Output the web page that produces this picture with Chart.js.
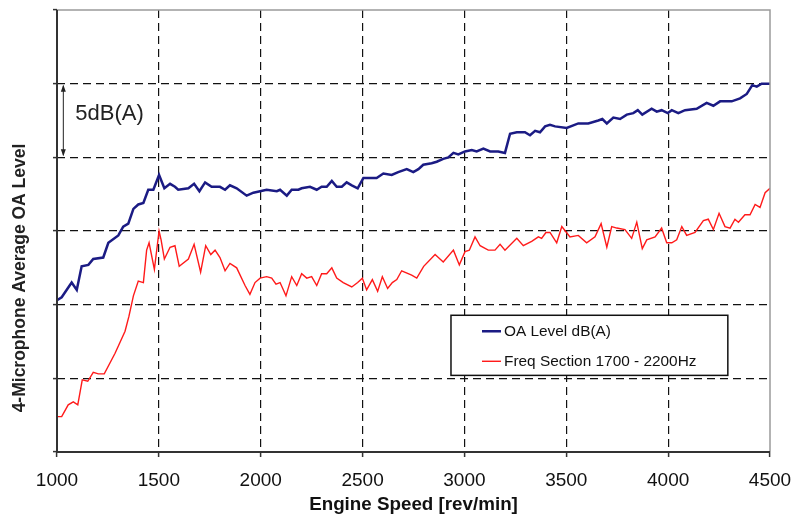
<!DOCTYPE html>
<html>
<head>
<meta charset="utf-8">
<script src="https://cdn.jsdelivr.net/npm/chart.js@4.4.1/dist/chart.umd.min.js"></script>
<style>
  html, body { margin: 0; padding: 0; background: #ffffff; }
  #wrap { width: 794px; height: 517px; }
</style>
</head>
<body>
<div id="wrap"><canvas id="c" width="794" height="517"></canvas></div>
<script>
// ---------- data ----------
const xTicks = [1000, 1500, 2000, 2500, 3000, 3500, 4000, 4500];
const seriesNames = ['OA Level dB(A)', 'Freq Section 1700 - 2200Hz'];

const oaRpm = [1000,1023,1072,1097,1121,1154,1178,1227,1252,1301,1325,1350,1375,1399,1424,1448,1473,1501,1527,1555,1579,1595,1645,1673,1699,1727,1759,1800,1825,1849,1882,1931,1964,1997,2029,2079,2095,2128,2152,2185,2201,2242,2275,2299,2324,2349,2373,2398,2422,2447,2476,2504,2528,2569,2602,2643,2675,2717,2749,2774,2798,2839,2864,2896,2921,2946,2970,3003,3036,3060,3093,3126,3166,3199,3224,3257,3297,3322,3347,3371,3396,3420,3445,3502,3559,3608,3657,3677,3699,3731,3764,3797,3829,3851,3873,3919,3944,3968,3998,4018,4050,4083,4140,4189,4222,4255,4312,4353,4386,4413,4435,4459,4500];
const oaLevel = [70.3,70.5,71.5,71.0,72.6,72.7,73.1,73.2,74.2,74.7,75.3,75.5,76.5,76.8,76.9,77.8,77.8,78.8,77.9,78.2,78.0,77.8,77.9,78.2,77.7,78.3,78.0,78.0,77.8,78.1,77.9,77.4,77.6,77.7,77.8,77.7,77.8,77.4,77.8,77.8,77.9,78.0,77.8,78.0,78.0,78.4,78.0,78.0,78.3,78.1,77.9,78.6,78.6,78.6,78.9,78.8,79.0,79.2,79.0,79.2,79.5,79.6,79.7,79.9,80.0,80.3,80.2,80.4,80.5,80.4,80.6,80.4,80.4,80.3,81.6,81.7,81.7,81.5,81.8,81.7,82.1,82.2,82.1,82.0,82.3,82.3,82.5,82.6,82.3,82.7,82.6,82.9,83.0,83.2,82.9,83.3,83.1,83.2,83.0,83.2,83.0,83.2,83.3,83.7,83.5,83.8,83.8,84.0,84.3,84.9,84.8,85.0,85.0];

const freqRpm = [1000,1023,1055,1080,1102,1124,1151,1178,1203,1232,1285,1334,1353,1375,1399,1424,1440,1452,1478,1501,1511,1527,1555,1579,1600,1645,1673,1705,1730,1755,1776,1800,1825,1849,1882,1923,1947,1972,1997,2029,2054,2075,2095,2124,2152,2177,2201,2226,2250,2275,2299,2324,2349,2373,2405,2447,2476,2499,2520,2548,2574,2597,2623,2646,2668,2692,2741,2766,2800,2856,2896,2946,2975,3003,3024,3052,3077,3117,3150,3175,3199,3257,3289,3330,3363,3379,3400,3420,3453,3478,3518,3559,3600,3641,3671,3699,3723,3748,3788,3821,3846,3873,3895,3936,3968,3993,4018,4042,4067,4091,4132,4173,4197,4222,4250,4279,4304,4328,4345,4377,4402,4427,4451,4476,4500];
const freqLevel = [62.4,62.4,63.2,63.4,63.2,64.9,64.8,65.4,65.3,65.3,66.7,68.2,69.2,70.6,71.6,71.5,73.7,74.2,72.4,75.0,74.4,73.1,73.9,74.0,72.6,73.1,74.1,72.2,74.0,73.4,73.7,73.2,72.3,72.8,72.5,71.3,70.7,71.5,71.8,71.9,71.8,71.4,71.5,70.6,71.9,71.3,72.1,71.8,71.9,71.3,72.1,72.1,72.5,71.8,71.5,71.2,71.5,71.8,71.0,71.7,70.9,71.9,71.1,71.5,71.7,72.3,72.0,71.8,72.6,73.4,72.9,73.7,72.7,73.6,73.7,74.6,74.0,73.7,73.7,74.1,73.7,74.5,74.0,74.3,74.6,74.5,74.9,74.9,74.2,75.3,74.6,74.7,74.2,74.6,75.5,73.9,75.3,75.2,75.1,74.5,75.6,73.8,74.4,74.6,75.2,74.2,74.2,74.4,75.3,74.7,74.9,75.7,75.8,75.1,76.2,75.3,75.2,75.8,75.6,76.1,76.1,76.8,76.6,77.6,77.9];

const yMin = 60, yMax = 90, yStep = 5;
const spanTop = 85, spanBottom = 80;   // the 5 dB(A) marker
const spanLabel = '5dB(A)';
const yTitle = '4-Microphone Average OA Level';
const xTitle = 'Engine Speed [rev/min]';

// ---------- helpers ----------
function pairs(xs, ys) { return xs.map((x, i) => ({ x: x, y: ys[i] })); }
const FONT = "'Liberation Sans', Arial, Helvetica, sans-serif";

// ---------- plugin: frame, y title, 5dB marker, legend ----------
const decor = {
  id: 'decor',
  beforeDraw(chart) {
    const ctx = chart.ctx;
    ctx.save();
    ctx.fillStyle = '#ffffff';
    ctx.fillRect(0, 0, chart.width, chart.height);
    ctx.restore();
  },
  afterDatasetsDraw(chart) {
    const ctx = chart.ctx;
    const a = chart.chartArea;
    const xs = chart.scales.x, ys = chart.scales.y;

    // frame: grey top/right, dark left/bottom
    ctx.save();
    ctx.setLineDash([]);
    ctx.strokeStyle = '#9a9a9a';
    ctx.lineWidth = 1.5;
    ctx.beginPath();
    ctx.moveTo(a.left, a.top); ctx.lineTo(a.right, a.top); ctx.lineTo(a.right, a.bottom);
    ctx.stroke();
    ctx.strokeStyle = '#333333';
    ctx.lineWidth = 2;
    ctx.beginPath();
    ctx.moveTo(a.left, a.top); ctx.lineTo(a.left, a.bottom); ctx.lineTo(a.right, a.bottom);
    ctx.stroke();

    // 5 dB(A) marker
    const mx = xs.getPixelForValue(1031);
    const y1 = ys.getPixelForValue(spanTop), y2 = ys.getPixelForValue(spanBottom);
    ctx.strokeStyle = '#222222';
    ctx.fillStyle = '#222222';
    ctx.lineWidth = 1;
    ctx.beginPath(); ctx.moveTo(mx, y1 + 2); ctx.lineTo(mx, y2 - 2); ctx.stroke();
    ctx.beginPath(); ctx.moveTo(mx, y1 + 1); ctx.lineTo(mx - 2.5, y1 + 8); ctx.lineTo(mx + 2.5, y1 + 8); ctx.closePath(); ctx.fill();
    ctx.beginPath(); ctx.moveTo(mx, y2 - 1); ctx.lineTo(mx - 2.5, y2 - 8); ctx.lineTo(mx + 2.5, y2 - 8); ctx.closePath(); ctx.fill();
    ctx.font = '22px ' + FONT;
    ctx.textAlign = 'left';
    ctx.textBaseline = 'middle';
    ctx.fillText(spanLabel, mx + 12, (y1 + y2) / 2 - 7);

    // legend box
    const lx = xs.getPixelForValue(2934), rx = xs.getPixelForValue(4293);
    const ty = ys.getPixelForValue(69.28), by = ys.getPixelForValue(65.2);
    ctx.fillStyle = '#ffffff';
    ctx.fillRect(lx, ty, rx - lx, by - ty);
    ctx.strokeStyle = '#111111';
    ctx.lineWidth = 1.5;
    ctx.strokeRect(lx, ty, rx - lx, by - ty);
    const rows = [ty + 16, ty + 46];
    chart.data.datasets.forEach((ds, i) => {
      const yy = rows[i];
      ctx.strokeStyle = ds.borderColor;
      ctx.lineWidth = ds.borderWidth;
      ctx.beginPath(); ctx.moveTo(lx + 31, yy); ctx.lineTo(lx + 50, yy); ctx.stroke();
      ctx.fillStyle = '#111111';
      ctx.font = '15.4px ' + FONT;
      ctx.textAlign = 'left';
      ctx.textBaseline = 'middle';
      ctx.fillText(ds.label, lx + 53, yy);
    });

    // y title
    ctx.translate(20, 278);
    ctx.rotate(-Math.PI / 2);
    ctx.font = 'bold 17.5px ' + FONT;
    ctx.fillStyle = '#222222';
    ctx.textAlign = 'center';
    ctx.textBaseline = 'middle';
    ctx.fillText(yTitle, 0, 0);
    ctx.restore();
  }
};

// ---------- chart ----------
const gridColX = (c) => (c.tick && (c.tick.value === xTicks[0] || c.tick.value === xTicks[xTicks.length - 1])) ? 'rgba(0,0,0,0)' : '#111111';
const gridColY = (c) => (c.tick && (c.tick.value === yMin || c.tick.value === yMax)) ? 'rgba(0,0,0,0)' : '#111111';

new Chart(document.getElementById('c'), {
  type: 'line',
  data: {
    datasets: [
      { label: seriesNames[0], data: pairs(oaRpm, oaLevel), borderColor: '#1b1b84', borderWidth: 2.5, pointRadius: 0, tension: 0, fill: false },
      { label: seriesNames[1], data: pairs(freqRpm, freqLevel), borderColor: '#ff1a1a', borderWidth: 1.4, pointRadius: 0, tension: 0, fill: false }
    ]
  },
  options: {
    responsive: false,
    animation: false,
    devicePixelRatio: 1,
    layout: { padding: { left: 53, right: 24, top: 10, bottom: 0 } },
    plugins: { legend: { display: false }, tooltip: { enabled: false } },
    scales: {
      x: {
        type: 'linear', min: 1000, max: 4500,
        afterBuildTicks: (s) => { s.ticks = xTicks.map(v => ({ value: v })); },
        afterFit: (s) => { s.height = 65; s.paddingLeft = 0; s.paddingRight = 0; },
        grid: { color: gridColX, lineWidth: 1.2, drawTicks: true, tickLength: 5, tickColor: '#333333', tickWidth: 1.5 },
        border: { display: false, dash: [8, 5] },
        ticks: { font: { family: FONT, size: 19 }, color: '#111111', padding: 12, maxRotation: 0, autoSkip: false, callback: (v) => String(v) },
        title: { display: true, text: xTitle, font: { family: FONT, size: 18.8, weight: 'bold' }, color: '#111111', padding: { top: 0, bottom: 1 } }
      },
      y: {
        type: 'linear', min: yMin, max: yMax,
        ticks: { stepSize: yStep, display: false },
        grid: { color: gridColY, lineWidth: 1.2, drawTicks: true, tickLength: 4, tickColor: '#333333', tickWidth: 1.5 },
        border: { display: false, dash: [8, 5] }
      }
    }
  },
  plugins: [decor]
});
</script>
</body>
</html>
